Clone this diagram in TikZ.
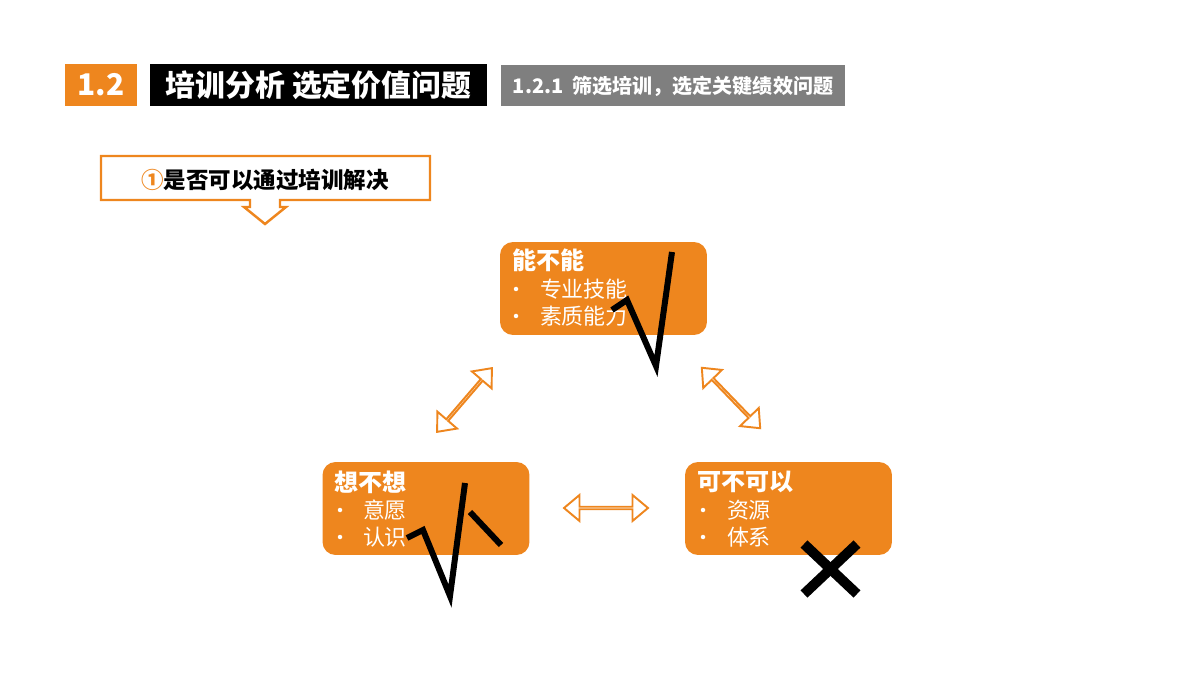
\documentclass[tikz,border=0pt]{standalone}
\usepackage{fontspec}
\setmainfont{Noto Sans CJK SC}
\usetikzlibrary{shapes.arrows,positioning}
\definecolor{pptorange}{RGB}{238,134,30}
\definecolor{pptgray}{RGB}{127,127,127}
\tikzset{every node/.style={inner sep=0pt, outer sep=0pt}}
\tikzset{head/.style={minimum height=0.84cm, text=white, font=\fontsize{17}{20}\selectfont\bfseries}}
\tikzset{topic/.style={fill=pptorange, rounded corners=0.26cm, minimum width=4.14cm, minimum height=1.86cm}}
\tikzset{ttl/.style={anchor=west, text=white, font=\fontsize{13.7}{16}\selectfont\bfseries}}
\tikzset{item/.style={anchor=west, text=white, font=\fontsize{12.5}{15}\selectfont}}
\tikzset{dot/.style={circle, fill=white, minimum size=0.09cm}}
\tikzset{dblarrow/.style={double arrow, draw=pptorange, fill=white, line width=1.1pt,
    minimum width=0.52cm, minimum height=1.68cm, double arrow head extend=0.18cm,
    double arrow tip angle=80}}
\tikzset{tick/.style={draw=black, line width=0.12cm, line join=miter}}

\begin{document}
\begin{tikzpicture}[x=0.02cm, y=-0.02cm]
  \useasboundingbox (0,0) rectangle (1200,675);

    %%%% Header
    \node[head, fill=pptorange, minimum width=1.44cm](sec) at (101,85)    {1.2};
    \node[head, fill=black, minimum width=6.74cm](title) at (318.5,85)   {培训分析 选定价值问题};
    \node[head, fill=pptgray, minimum width=6.88cm, minimum height=0.82cm,
          font=\fontsize{11.4}{13}\selectfont\bfseries](sub) at (673,86)  {1.2.1\ \ 筛选培训，选定关键绩效问题};

    %%%% Callout
    \draw[draw=pptorange, line width=1.4pt, fill=white]
      (101,156) -- (430,156) -- (430,200) -- (280,200) -- (280,207) -- (286,207)
      -- (265,224) -- (244,207) -- (250,207) -- (250,200) -- (101,200) -- cycle;
    \node(q) at (265,180) [font=\fontsize{12.8}{15}\selectfont\bfseries]
      {\textcolor{pptorange}{①}是否可以通过培训解决};

    %%%% Boxes
    \node[topic](neng)  at (603.5,288.5) {};
    \node[topic](xiang) at (426,508.5)   {};
    \node[topic](keyi)  at (788.5,508.5) {};

    \node[ttl](neng-t)  at (512,260) {能不能};
    \node[dot](neng-b1) at (516,289) {};
    \node[item](neng-i1) at (540,289) {专业技能};
    \node[dot](neng-b2) at (516,316) {};
    \node[item](neng-i2) at (540,316) {素质能力};

    \node[ttl](xiang-t)  at (334,482) {想不想};
    \node[dot](xiang-b1) at (340,510) {};
    \node[item](xiang-i1) at (363,510) {意愿};
    \node[dot](xiang-b2) at (340,537) {};
    \node[item](xiang-i2) at (363,537) {认识};

    \node[ttl](keyi-t)  at (697,482) {可不可以};
    \node[dot](keyi-b1) at (703,510) {};
    \node[item](keyi-i1) at (727,510) {资源};
    \node[dot](keyi-b2) at (703,537) {};
    \node[item](keyi-i2) at (727,537) {体系};

    %%%% Double arrows
    \node[dblarrow, rotate=49.3](a1) at (464.5,400) {};
    \node[dblarrow, rotate=-46](a2)  at (731,398)   {};
    \node[dblarrow](a3)              at (606,508)   {};

    %%%% Marks
    \draw[tick] (612,310) -- (627,300) -- (656,366) -- (672,252);
    \draw[tick] (407,538) -- (423,530) -- (450,596) -- (465,483);
    \draw[tick] (470,512) -- (501,545);
    \draw[tick, line width=0.2cm] (804,544) -- (857,594);
    \draw[tick, line width=0.2cm] (857,544) -- (804,594);

  \end{tikzpicture}
\end{document}
